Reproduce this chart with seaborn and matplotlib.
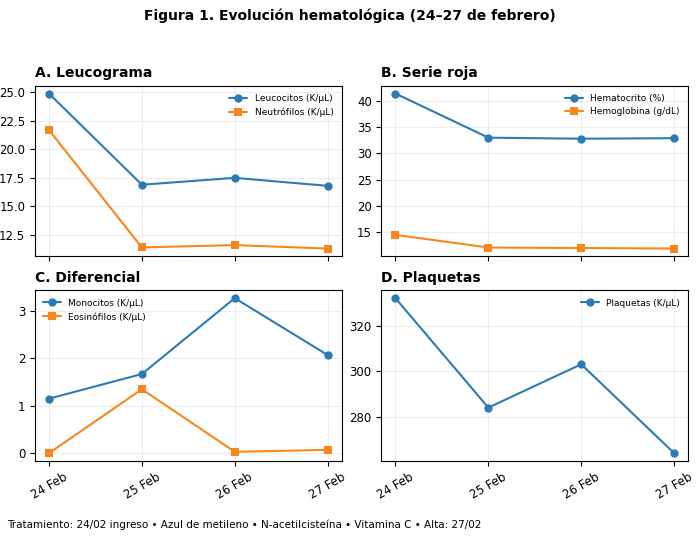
import matplotlib
matplotlib.use('Agg')
import matplotlib.pyplot as plt
import seaborn as sns
import pandas as pd

# ── Data ────────────────────────────────────────────────
dates = ['24 Feb', '25 Feb', '26 Feb', '27 Feb']
leucocitos = [24.9, 16.9, 17.5, 16.8]
neutrofilos = [21.7, 11.4, 11.6, 11.3]
hematocrito = [41.4, 33.0, 32.8, 32.9]
hemoglobina = [14.5, 12.1, 12.0, 11.9]
monocitos = [1.15, 1.67, 3.27, 2.07]
eosinofilos = [0.0, 1.35, 0.03, 0.07]
plaquetas = [332, 284, 303, 264]

BLUE = '#2b7bb4'
ORANGE = '#f7871c'

sns.set_style('ticks')
plt.rcParams['font.family'] = ['DejaVu Sans']
plt.rcParams.update({'text.color': 'black', 'axes.labelcolor': 'black',
                     'xtick.color': 'black', 'ytick.color': 'black',
                     'axes.edgecolor': 'black'})

fig, axes = plt.subplots(2, 2, figsize=(7, 5.36), dpi=100, sharex='col')

panels = [
    (axes[0, 0], 'A. Leucograma', [('Leucocitos (K/µL)', leucocitos), ('Neutrófilos (K/µL)', neutrofilos)], 'upper right'),
    (axes[0, 1], 'B. Serie roja', [('Hematocrito (%)', hematocrito), ('Hemoglobina (g/dL)', hemoglobina)], 'upper right'),
    (axes[1, 0], 'C. Diferencial', [('Monocitos (K/µL)', monocitos), ('Eosinófilos (K/µL)', eosinofilos)], 'upper left'),
    (axes[1, 1], 'D. Plaquetas', [('Plaquetas (K/µL)', plaquetas)], 'upper right'),
]

for ax, title, series, loc in panels:
    for i, (label, vals) in enumerate(series):
        df = pd.DataFrame({'fecha': dates, 'valor': vals})
        sns.lineplot(data=df, x='fecha', y='valor', ax=ax, label=label,
                     color=[BLUE, ORANGE][i], marker=['o', 's'][i],
                     markersize=6, markeredgewidth=0, linewidth=1.5, sort=False)
    ax.set_title(title, loc='left', fontweight='bold', fontsize=10)
    ax.set_xlabel('')
    ax.set_ylabel('')
    ax.grid(True, alpha=0.35)
    ax.tick_params(labelsize=8.5)
    ax.legend(loc=loc, fontsize=6.5, frameon=False)

for ax in axes[1]:
    for lbl in ax.get_xticklabels():
        lbl.set_rotation(30)

fig.suptitle('Figura 1. Evolución hematológica (24–27 de febrero)', fontweight='bold', fontsize=10, y=0.985)
fig.subplots_adjust(left=0.05, right=0.983, top=0.84, bottom=0.14, hspace=0.2, wspace=0.13)
fig.text(0.01, 0.015, 'Tratamiento: 24/02 ingreso • Azul de metileno • N-acetilcisteína • Vitamina C • Alta: 27/02', fontsize=7.5)

plt.savefig('out.png', dpi=100)
plt.close()
